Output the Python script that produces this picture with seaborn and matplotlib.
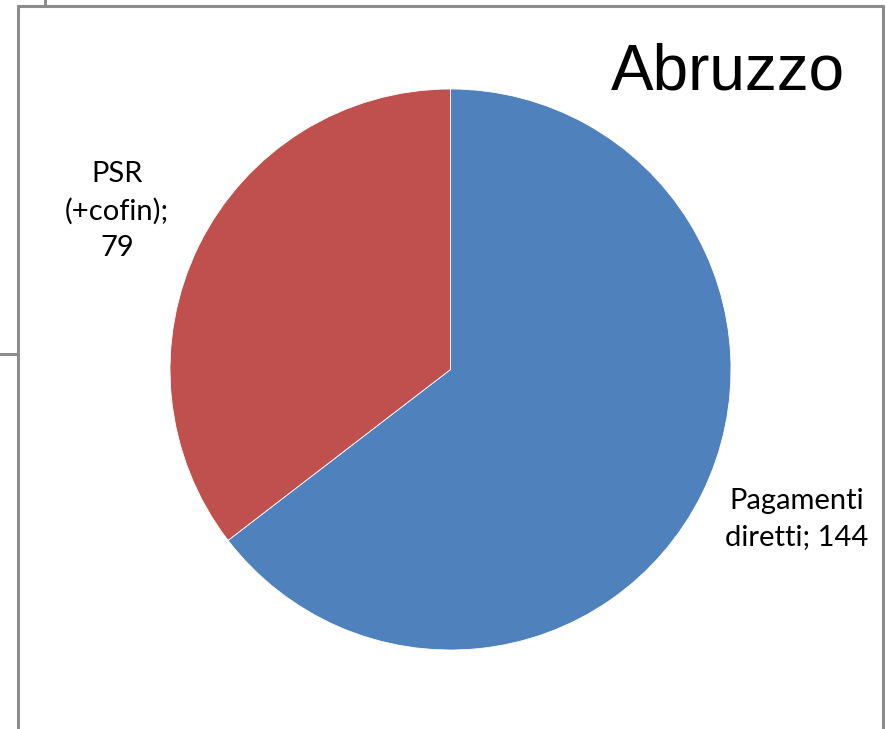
import matplotlib
matplotlib.use("Agg")
import matplotlib.pyplot as plt
from matplotlib.lines import Line2D
import seaborn as sns

categories = ["Pagamenti diretti", "PSR (+cofin)"]
values = [144, 79]
label_texts = ["Pagamenti\ndiretti; 144", "PSR\n(+cofin);\n79"]
colors = ["#4F81BD", "#C0504D"]
title = "Abruzzo"

sns.set_theme(style="white")
plt.rcParams['font.family'] = ['Lato', 'DejaVu Sans']

W, H = 887, 729
fig = plt.figure(figsize=(W / 100, H / 100), dpi=100)
fig.patch.set_facecolor("white")

def fx(x):
    return x / W

def fy(y):
    return 1 - y / H

gray = "#8C8C8C"
for (x0, y0, x1, y1) in [(17.5, 5.5, 883.5, 5.5), (17.5, 5.5, 17.5, 729), (883.5, 5.5, 883.5, 729),
                         (0, 354, 17.5, 354), (45, 0, 45, 5.5)]:
    fig.add_artist(Line2D([fx(x0), fx(x1)], [fy(y0), fy(y1)], color=gray, lw=2.2,
                          transform=fig.transFigure))

cx, cy, r = 450.5, 369.5, 280.5
ax = fig.add_axes([fx(cx - r), fy(cy + r), 2 * r / W, 2 * r / H])
ax.pie(values, colors=colors, startangle=90, counterclock=False, radius=1,
       wedgeprops=dict(edgecolor="white", linewidth=0.6))
ax.set_xlim(-1, 1)
ax.set_ylim(-1, 1)
ax.set_aspect("auto")
ax.axis("off")

label_pos = [((797 - cx) / r, -(519 - cy) / r), ((117 - cx) / r, -(211 - cy) / r)]
for txt, (lx, ly) in zip(label_texts, label_pos):
    ax.text(lx, ly, txt, ha="center", va="center", fontsize=21, color="black",
            linespacing=1.5, clip_on=False)

fig.text(fx(845), fy(72), title, ha="right", va="center", fontsize=46,
         family=['Liberation Sans', 'DejaVu Sans'], color="black")

fig.savefig("out.png", dpi=100, facecolor="white")
